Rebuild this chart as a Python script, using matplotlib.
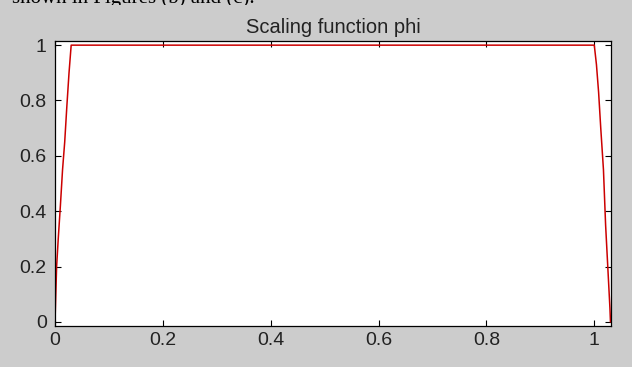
import matplotlib.pyplot as plt

# scaling function samples
x_phi = [0.0, 0.003, 0.006, 0.010, 0.014, 0.018, 0.022, 0.026, 0.030,
         1.000, 1.004, 1.008, 1.012, 1.017, 1.021, 1.025, 1.029, 1.030]
y_phi = [0.0, 0.20, 0.30, 0.42, 0.55, 0.65, 0.78, 0.90, 1.0,
         1.0, 0.93, 0.83, 0.70, 0.55, 0.35, 0.20, 0.05, 0.0]

x_ticks = [0, 0.2, 0.4, 0.6, 0.8, 1]
y_ticks = [0, 0.2, 0.4, 0.6, 0.8, 1]
x_labels = ["0", "0.2", "0.4", "0.6", "0.8", "1"]
y_labels = ["0", "0.2", "0.4", "0.6", "0.8", "1"]

plt.rcParams["font.family"] = ["Liberation Sans", "DejaVu Sans"]

fig = plt.figure(figsize=(6.32, 3.67), dpi=100, facecolor="#cccccc")

# strip of the document page above the figure (cut off in the screenshot)
top = fig.add_axes([0, 1 - 5 / 367, 1, 5 / 367])
top.set_facecolor("white")
top.set_xlim(0, 632)
top.set_ylim(0, 5)
top.axis("off")
top.patch.set_visible(True)
top.text(12, 2.2, "shown in Figures (b) and (c).", fontsize=15,
         family="Liberation Serif", va="baseline", clip_on=True)

ax = fig.add_axes([55 / 632, 41 / 367, 556 / 632, 285 / 367])
ax.set_facecolor("white")
ax.plot(x_phi, y_phi, color="#cc0000", lw=1.1)

ax.set_xlim(0, 1.031)
ax.set_ylim(-0.015, 1.015)
ax.set_xticks(x_ticks)
ax.set_xticklabels(x_labels)
ax.set_yticks(y_ticks)
ax.set_yticklabels(y_labels)
ax.tick_params(direction="in", length=4, width=0.8, top=True, right=True,
               labelsize=14, colors="black", labelcolor="#222222")
ax.tick_params(axis="x", pad=4)
ax.tick_params(axis="y", pad=6)
for s in ax.spines.values():
    s.set_linewidth(0.9)
    s.set_color("black")

ax.set_title("Scaling function phi", fontsize=14.5, color="#222222", pad=6)

fig.savefig("out.png", dpi=100, facecolor=fig.get_facecolor())
